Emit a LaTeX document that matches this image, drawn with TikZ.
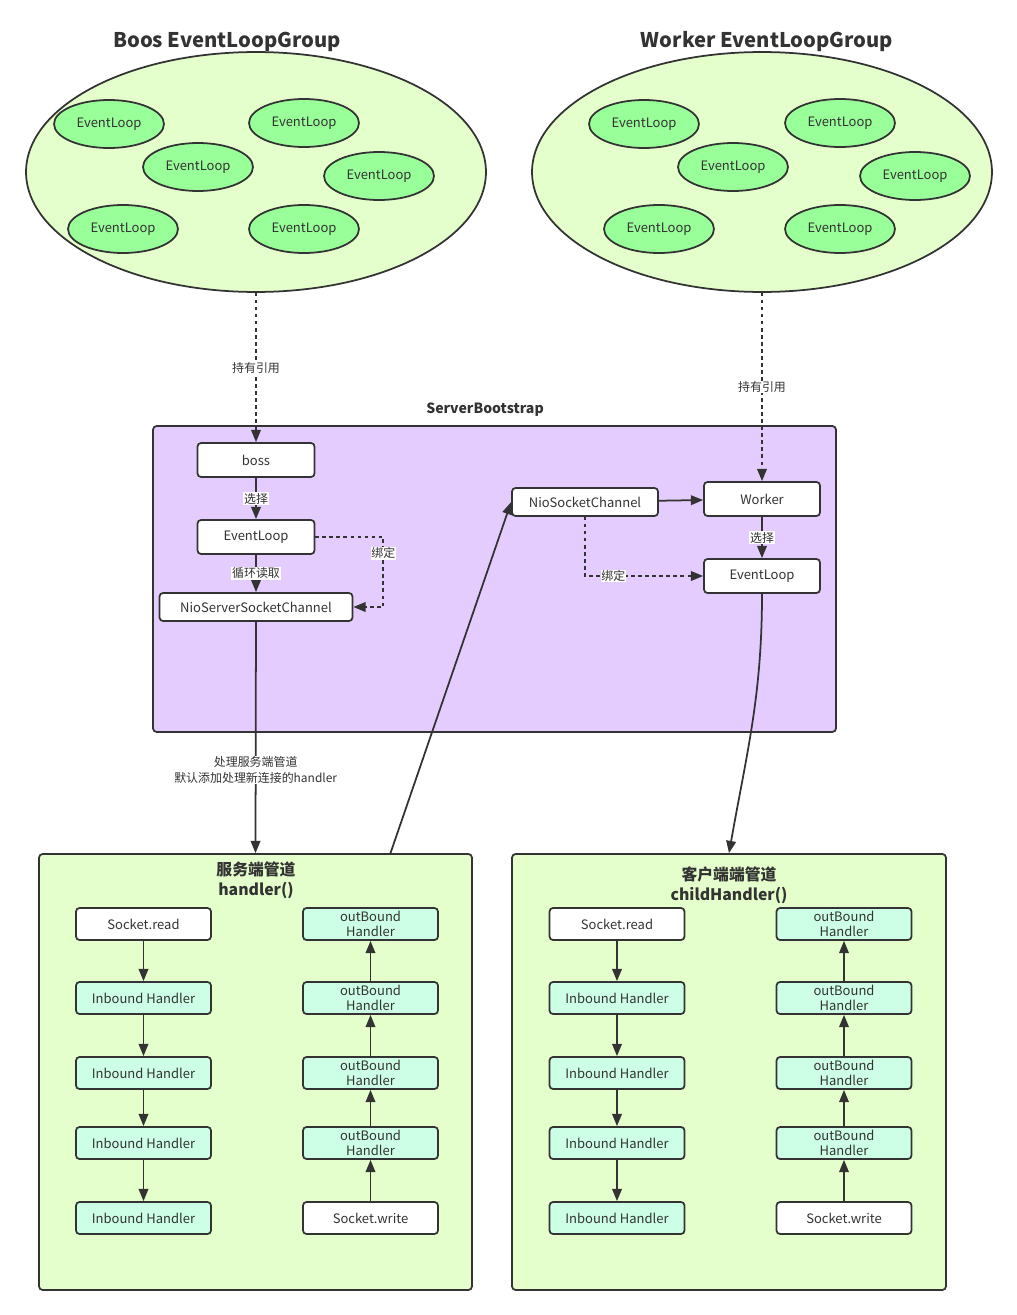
\documentclass[tikz,border=0pt]{standalone}
\usepackage{fontspec}
\setmainfont{Noto Sans CJK SC}
\usetikzlibrary{positioning, shapes.geometric, arrows.meta}
\definecolor{linec}{HTML}{333333}
\definecolor{groupfill}{HTML}{E4FFCC}
\definecolor{loopfill}{HTML}{99FF99}
\definecolor{bootfill}{HTML}{E5CCFF}
\definecolor{handfill}{HTML}{CCFFE6}

\begin{document}
\begin{tikzpicture}[x=0.02cm, y=-0.02cm,
		grp/.style={ellipse, draw=linec, line width=1pt, fill=groupfill, minimum width=9.2cm, minimum height=4.8cm},
		evloop/.style={ellipse, draw=linec, line width=1pt, fill=loopfill, minimum width=2.2cm, minimum height=0.96cm, inner sep=0pt, text=linec, font=\fontsize{7.4}{9}\selectfont},
		chbox/.style={rectangle, draw=linec, line width=1pt, fill=white, rounded corners=2pt, inner sep=0pt, text=linec, font=\fontsize{7.4}{9}\selectfont},
		hdl/.style={chbox, fill=handfill, minimum width=2.7cm, minimum height=0.64cm, align=center, font=\fontsize{7.4}{8.8}\selectfont},
		iobox/.style={chbox, minimum width=2.7cm, minimum height=0.64cm},
		pipebox/.style={rectangle, draw=linec, line width=1pt, rounded corners=2pt},
		bigtitle/.style={text=linec, font=\bfseries\fontsize{11.5}{13}\selectfont},
		pipetitle/.style={text=linec, align=center, font=\bfseries\fontsize{9}{11.3}\selectfont},
		lbl/.style={fill=white, inner sep=0.5pt, text=linec, font=\fontsize{6.8}{9}\selectfont},
		link/.style={draw=linec, line width=1pt},
		dots/.style={link, dash pattern=on 2pt off 2pt},
		>={Triangle[length=7pt, width=5.5pt]}
	]
	\useasboundingbox (0,0) rectangle (1017,1315);

	% event loop groups
	\node[grp] (bossgrp) at (256,172) {};
	\node[grp] (workergrp) at (762,172) {};
	\node[bigtitle] (bosstitle) at (227,42) {Boos EventLoopGroup};
	\node[bigtitle] (workertitle) at (767,42) {Worker EventLoopGroup};
	\foreach \n/\x/\y in {b1/109/124, b2/198/167, b3/304/123, b4/379/176, b5/123/229, b6/304/229,
		w1/644/124, w2/733/167, w3/840/123, w4/915/176, w5/659/229, w6/840/229}
		\node[evloop] (\n) at (\x,\y) {EventLoop};

	% server bootstrap
	\node[pipebox, fill=bootfill, minimum width=13.66cm, minimum height=6.12cm] (bootstrap) at (494.5,579) {};
	\node[text=linec, font=\bfseries\fontsize{8}{10}\selectfont] (boottitle) at (485,410) {ServerBootstrap};

	\node[chbox, minimum width=2.34cm, minimum height=0.68cm] (boss) at (256,460) {boss};
	\node[chbox, minimum width=2.34cm, minimum height=0.68cm] (bel) at (256,537) {EventLoop};
	\node[chbox, minimum width=3.86cm, minimum height=0.56cm] (nssc) at (256,607) {NioServerSocketChannel};
	\node[chbox, minimum width=2.92cm, minimum height=0.56cm] (nsc) at (585,502) {NioSocketChannel};
	\node[chbox, minimum width=2.32cm, minimum height=0.68cm] (worker) at (762,499) {Worker};
	\node[chbox, minimum width=2.32cm, minimum height=0.68cm] (wel) at (762,576) {EventLoop};

	% pipelines
	\node[pipebox, fill=groupfill, minimum width=8.66cm, minimum height=8.72cm] (serverpipe) at (255.5,1072) {};
	\node[pipebox, fill=groupfill, minimum width=8.68cm, minimum height=8.72cm] (clientpipe) at (729,1072) {};
	\node[pipetitle] (servertitle) at (256,880) {服务端管道\\handler()};
	\node[pipetitle] (clienttitle) at (729,885) {客户端端管道\\childHandler()};

	\foreach \p/\l/\r in {s/143.5/370.5, c/617/844} {
		\node[iobox] (\p-read) at (\l,924) {Socket.read};
		\foreach \i/\y in {1/998, 2/1073, 3/1143, 4/1218}
			\node[hdl] (\p-in\i) at (\l,\y) {Inbound Handler};
		\foreach \i/\y in {1/924, 2/998, 3/1073, 4/1143}
			\node[hdl] (\p-out\i) at (\r,\y) {outBound\\Handler};
		\node[iobox] (\p-write) at (\r,1218) {Socket.write};

		\draw[link, ->] (\p-read) -- (\p-in1);
		\foreach \a/\b in {1/2, 2/3, 3/4}
			\draw[link, ->] (\p-in\a) -- (\p-in\b);
		\draw[link, ->] (\p-write) -- (\p-out4);
		\foreach \a/\b in {4/3, 3/2, 2/1}
			\draw[link, ->] (\p-out\a) -- (\p-out\b);
	}

	% connections
	\draw[dots, ->] (bossgrp.south) -- node[lbl] {持有引用} (boss);
	\draw[dots, ->] (workergrp.south) -- node[lbl] {持有引用} (worker);
	\draw[link, ->] (boss) -- node[lbl] {选择} (bel);
	\draw[link, ->] (bel) -- node[lbl] {循环读取} (nssc);
	\draw[dots, ->] (bel.east) -- ++(68,0) -- node[lbl, pos=0.23] {绑定} ++(0,70) -- (nssc.east);
	\draw[link, ->] (nsc) -- (worker);
	\draw[link, ->] (worker) -- node[lbl] {选择} (wel);
	\draw[dots, ->] (nsc.south) |- node[lbl, pos=0.62] {绑定} (wel.west);
	\draw[link, ->] (nssc) -- node[lbl, align=center, pos=0.64] {处理服务端管道\\默认添加处理新连接的handler} (serverpipe.north);
	\draw[link, ->] ([xshift=2.7cm]serverpipe.north) -- (nsc.west);
	\draw[link, ->] (wel.south) to[out=-90, in=80] (clientpipe.north);

\end{tikzpicture}
\end{document}
